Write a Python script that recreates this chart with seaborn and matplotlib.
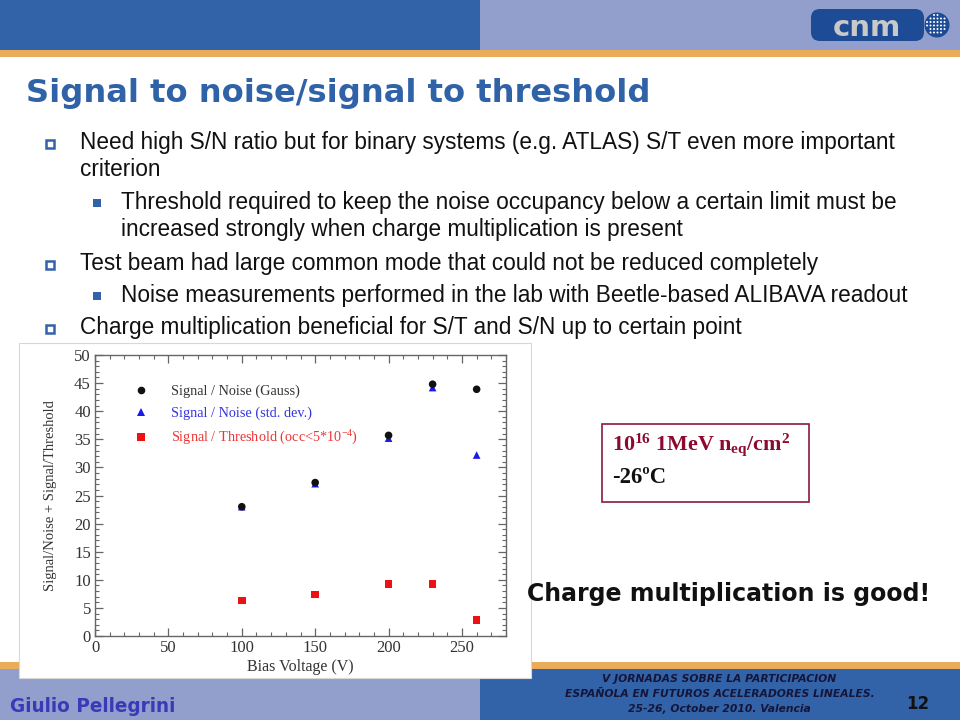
import numpy as np
import pandas as pd
import matplotlib
matplotlib.use("Agg")
import matplotlib.pyplot as plt
import seaborn as sns
from matplotlib.patches import Rectangle, FancyBboxPatch, Circle
from matplotlib.ticker import MultipleLocator

# ---------------- data ----------------
bias_voltage = [100, 150, 200, 230, 260]
sn_gauss = [23.0, 27.3, 35.7, 44.8, 43.9]
sn_stddev = [23.0, 27.1, 35.2, 44.2, 32.2]
st_threshold = [6.3, 7.4, 9.3, 9.2, 2.8]

series_names = ["Signal / Noise (Gauss)",
                "Signal / Noise (std. dev.)",
                "Signal / Threshold (occ<5*10$\\mathregular{^{-4}}$)"]

x_ticks = [0, 50, 100, 150, 200, 250]
y_ticks = [0, 5, 10, 15, 20, 25, 30, 35, 40, 45, 50]

title_text = "Signal to noise/signal to threshold"
bullets = [
    (0, "Need high S/N ratio but for binary systems (e.g. ATLAS) S/T even more important"),
    (-1, "criterion"),
    (1, "Threshold required to keep the noise occupancy below a certain limit must be"),
    (-2, "increased strongly when charge multiplication is present"),
    (0, "Test beam had large common mode that could not be reduced completely"),
    (1, "Noise measurements performed in the lab with Beetle-based ALIBAVA readout"),
    (0, "Charge multiplication beneficial for S/T and S/N up to certain point"),
]
bullet_baselines = [149, 176, 209, 236, 270, 302, 334]

# ---------------- style ----------------
sns.set_theme(style="ticks")
plt.rcParams["font.family"] = ["DejaVu Sans"]

BLUE = "#3263A8"
LAV = "#929FCC"
ORANGE = "#E8AC5A"

fig = plt.figure(figsize=(9.6, 7.2), dpi=100)
page = fig.add_axes([0, 0, 1, 1])
page.set_xlim(0, 960)
page.set_ylim(720, 0)
page.axis("off")
renderer = fig.canvas.get_renderer()


def fit(x, y, s, w, size0=20, **kw):
    t = page.text(x, y, s, fontsize=size0, **kw)
    bb = t.get_window_extent(renderer)
    t.set_fontsize(size0 * w / bb.width)
    return t


# header
page.add_patch(Rectangle((0, 0), 480, 50, color=BLUE, lw=0))
page.add_patch(Rectangle((480, 0), 480, 50, color=LAV, lw=0))
page.add_patch(Rectangle((0, 50), 960, 7, color=ORANGE, lw=0))

# logo
page.add_patch(FancyBboxPatch((811, 9), 113, 32, boxstyle="round,pad=0,rounding_size=9",
                              fc="#1d4b95", ec="none"))
page.text(867, 36, "cnm", fontsize=21, fontweight="bold", color="#c9c9c9",
          ha="center", va="baseline")
page.add_patch(Circle((937, 25), 12.5, fc="#1d4b95", ec="none"))
for gx in np.arange(927, 948, 3.5):
    for gy in np.arange(15, 36, 3.5):
        if (gx - 937) ** 2 + (gy - 25) ** 2 < 10.5 ** 2:
            page.add_patch(Circle((gx, gy), 1.0, fc="white", ec="none"))

# title
fit(26, 102, title_text, 624, fontweight="bold", color="#2F62A6", va="baseline")

# bullets
ref = page.text(0, 0, bullets[0][1], fontsize=20, family="Liberation Sans")
bsize = 20 * 815 / ref.get_window_extent(renderer).width
ref.remove()
for (lvl, txt), yb in zip(bullets, bullet_baselines):
    xt = 80 if lvl in (0, -1) else 121
    page.text(xt, yb, txt, fontsize=bsize, family="Liberation Sans",
              color="#111111", va="baseline")
    if lvl == 0:
        page.add_patch(Rectangle((46, yb - 9), 7.5, 7.5, fc="white", ec=BLUE, lw=1.8))
    elif lvl == 1:
        page.add_patch(Rectangle((93, yb - 10), 8, 8, fc=BLUE, ec="none"))

# bottom bands
page.add_patch(Rectangle((0, 662), 960, 7, color=ORANGE, lw=0))
page.add_patch(Rectangle((0, 669), 480, 51, color=LAV, lw=0))
page.add_patch(Rectangle((480, 669), 480, 51, color=BLUE, lw=0))

# chart image background
page.add_patch(Rectangle((19, 343), 512, 335, fc="white", ec="#d8d8d8", lw=0.8))

# annotation box
page.add_patch(Rectangle((601.5, 424), 207.5, 78, fc="white", ec="#8B1A3A", lw=1.2))
fit(612, 450, "10$\\mathregular{^{16}}$ 1MeV n$\\mathregular{_{eq}}$/cm$\\mathregular{^{2}}$",
    178, family="Liberation Serif", fontweight="bold", color="#8B0A2E", va="baseline")
fit(612, 483, "-26ºC", 54, family="Liberation Serif", fontweight="bold",
    color="#111111", va="baseline")

fit(527, 601, "Charge multiplication is good!", 403, fontweight="bold",
    color="#111111", va="baseline")

# footer
fit(10, 712, "Giulio Pellegrini", 167, fontweight="bold", color="#3a3ab8", va="baseline")
ft = fit(720, 697, "ESPAÑOLA EN FUTUROS ACELERADORES LINEALES.", 309, style="italic",
         fontweight="bold", color="#15153a", va="baseline", ha="center")
fsz = ft.get_fontsize()
page.text(719, 682, "V JORNADAS SOBRE LA PARTICIPACION", fontsize=fsz, style="italic",
          fontweight="bold", color="#15153a", va="baseline", ha="center")
page.text(719, 712, "25-26, October 2010. Valencia", fontsize=fsz, style="italic",
          fontweight="bold", color="#15153a", va="baseline", ha="center")
page.text(918, 709, "12", fontsize=12, fontweight="bold", color="#111111",
          va="baseline", ha="center")

# ---------------- chart ----------------
ax = fig.add_axes([95 / 960, 1 - 636 / 720, 411 / 960, 281 / 720])
ax.set_facecolor("white")

df = pd.DataFrame({
    "bias": bias_voltage * 3,
    "value": sn_stddev + sn_gauss + st_threshold,
    "series": [series_names[1]] * 5 + [series_names[0]] * 5 + [series_names[2]] * 5,
})
palette = {series_names[0]: "#111111", series_names[1]: "#1a1ae6", series_names[2]: "#ee1111"}
markers = {series_names[0]: "o", series_names[1]: "^", series_names[2]: "s"}
sns.scatterplot(data=df, x="bias", y="value", hue="series", style="series",
                hue_order=series_names, style_order=series_names,
                palette=palette, markers=markers, s=30, linewidth=0, ax=ax, legend=True)

handles, labels = ax.get_legend_handles_labels()
ax.legend(handles, labels, loc="upper left", bbox_to_anchor=(0.095, 0.895),
          frameon=False, prop={"family": "Liberation Serif", "size": 10.3},
          handlelength=1.0, handletextpad=1.6, labelspacing=0.62, borderpad=0,
          borderaxespad=0, labelcolor=["#333333", "#3535dd", "#ee3535"])

ax.set_xlim(0, 280)
ax.set_ylim(0, 50)
ax.set_xticks(x_ticks)
ax.set_yticks(y_ticks)
ax.xaxis.set_minor_locator(MultipleLocator(10))
ax.yaxis.set_minor_locator(MultipleLocator(1))
ax.tick_params(which="both", direction="in", top=True, right=True, colors="#666666",
               labelcolor="#333333")
ax.tick_params(which="major", length=6, width=0.9, pad=3)
ax.tick_params(which="minor", length=3, width=0.8)
for lab in ax.get_xticklabels() + ax.get_yticklabels():
    lab.set_family("Liberation Serif")
    lab.set_fontsize(12)
for sp in ax.spines.values():
    sp.set_color("#666666")
    sp.set_linewidth(1.0)
ax.set_xlabel("Bias Voltage (V)", family="Liberation Serif", fontsize=11.5, color="#333333",
              labelpad=2)
ax.set_ylabel("Signal/Noise + Signal/Threshold", family="Liberation Serif", fontsize=10.5,
              color="#333333", labelpad=12)

fig.savefig("out.png", dpi=100)
